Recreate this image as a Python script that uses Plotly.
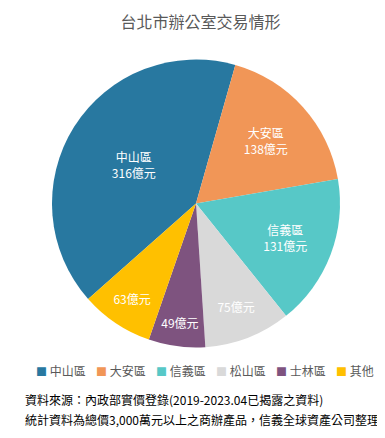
import plotly.graph_objects as go

labels = ["中山區", "大安區", "信義區", "松山區", "士林區", "其他"]
values = [316, 138, 131, 75, 49, 63]
colors = ["#2878a0", "#f19657", "#57c8c7", "#d9d9d9", "#7e537f", "#ffc000"]
show_name = [True, True, True, False, False, False]
footer = [
    "資料來源：內政部實價登錄(2019-2023.04已揭露之資料)",
    "統計資料為總價3,000萬元以上之商辦產品，信義全球資產公司整理",
]

texts = [(f"{l}<br>{v}億元" if s else f"{v}億元") for l, v, s in zip(labels, values, show_name)]

font = "Noto Sans CJK TC, Microsoft JhengHei, sans-serif"

fig = go.Figure(go.Pie(
    labels=labels, values=values, text=texts, textinfo="text",
    texttemplate="%{text}", textposition="inside", insidetextorientation="horizontal",
    sort=False, direction="clockwise", rotation=228.5,
    marker=dict(colors=colors, line=dict(color="white", width=0)),
    textfont=dict(color="white", size=12, family=font),
    domain=dict(x=[0.1143, 0.8623], y=[0.2237, 0.8836]),
    hoverinfo="label+value", showlegend=False,
))

annotations = []
for i, (l, c) in enumerate(zip(labels, colors)):
    annotations.append(dict(
        text=f"<span style='color:{c};font-size:11px'>■</span> {l}",
        xref="paper", yref="paper", x=(26 + 60 * i) / 385, y=0.1735,
        xanchor="left", yanchor="middle", showarrow=False,
        font=dict(size=12, color="#595959", family=font),
    ))
for j, t in enumerate(footer):
    annotations.append(dict(
        text=t, xref="paper", yref="paper", x=0.039, y=0.107 - 0.047 * j,
        xanchor="left", yanchor="middle", showarrow=False,
        font=dict(size=12, color="#000000", family=font),
    ))

fig.update_layout(
    width=385, height=438,
    margin=dict(l=0, r=0, t=0, b=0),
    paper_bgcolor="white",
    font=dict(family=font, color="#595959", size=12),
    title=dict(text="台北市辦公室交易情形", x=0.5, xanchor="center", y=0.966, yanchor="middle",
               font=dict(size=16, color="#595959", family=font)),
    annotations=annotations,
)

fig.write_html("out.html")
